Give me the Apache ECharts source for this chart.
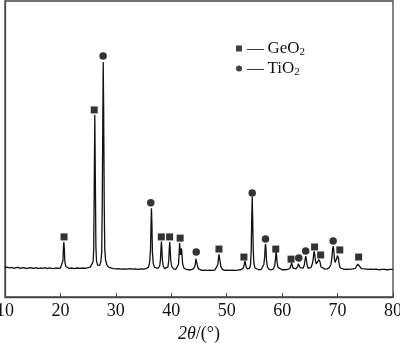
<!DOCTYPE html>
<html>
<head>
<meta charset="utf-8">
<script src="https://cdn.jsdelivr.net/npm/echarts@6/dist/echarts.min.js"></script>
<style>
html,body{margin:0;padding:0;background:#fff;}
#chart{width:400px;height:343px;}
</style>
</head>
<body>
<div id="chart"></div>
<script>
// X-ray diffraction pattern (2θ in degrees, intensity in arbitrary units)
var twoTheta = [
10.0,10.4,10.8,11.2,11.6,12.0,12.4,12.8,13.2,13.6,14.0,14.4,14.8,15.2,15.6,16.0,16.4,16.8,17.2,17.6,18.0,18.4,18.8,19.2,19.6,20.0,
20.1,20.3,20.45,20.55,20.62,20.7,20.8,20.95,21.2,
21.5,22.0,22.5,23.0,23.5,24.0,24.5,25.0,25.4,25.7,
25.9,26.0,26.1,26.2,26.3,26.4,26.5,26.7,26.9,27.1,27.3,27.45,27.55,27.65,27.72,27.8,27.9,28.0,28.15,28.4,28.7,29.0,
29.5,30.0,30.5,31.0,31.5,32.0,32.5,33.0,33.5,34.0,34.5,35.0,35.5,35.9,36.1,
36.25,36.35,36.42,36.5,36.6,36.75,37.0,37.3,37.6,37.9,
38.05,38.15,38.22,38.3,38.4,38.55,38.8,39.1,39.4,
39.55,39.65,39.72,39.8,39.9,40.05,40.4,40.8,41.1,41.3,
41.4,41.5,41.58,41.68,41.78,41.85,41.93,42.05,42.3,42.7,43.1,43.5,43.9,44.2,
44.35,44.45,44.52,44.6,44.7,44.85,45.1,45.5,46.0,46.5,47.0,47.5,47.9,48.2,48.4,
48.5,48.6,48.7,48.8,48.95,49.2,49.6,50.0,50.5,51.0,51.5,52.0,52.5,52.9,53.1,
53.22,53.3,53.38,53.5,53.7,53.9,54.1,54.3,
54.42,54.52,54.6,54.68,54.78,54.9,55.1,55.4,55.8,56.2,56.5,56.7,
56.85,56.95,57.0,57.08,57.18,57.35,57.6,58.0,58.4,58.65,
58.8,58.9,58.98,59.08,59.25,59.5,60.0,60.5,61.0,61.4,
61.6,61.7,61.8,61.95,62.2,62.5,62.8,
62.92,63.0,63.08,63.25,63.5,63.8,64.0,
64.15,64.25,64.35,64.5,64.7,64.95,65.2,65.45,
65.6,65.7,65.8,65.88,66.0,66.15,66.3,
66.5,66.65,66.72,66.85,67.0,67.3,67.7,68.1,68.5,68.8,
68.95,69.1,69.2,69.3,69.42,69.55,69.7,
69.85,69.97,70.05,70.15,70.3,70.5,70.8,71.2,71.6,72.0,72.4,72.8,73.2,73.5,
73.65,73.75,73.85,74.0,74.3,74.6,75.0,75.5,76.0,76.5,77.0,77.5,78.0,78.5,79.0,79.5,80.0
];
var intensity = [
9.9,10.1,9.8,10.0,9.7,9.9,10.0,9.7,9.9,9.8,9.6,9.9,9.8,9.7,9.9,9.6,9.8,9.7,9.9,9.6,9.8,9.7,9.6,9.8,9.7,9.8,
9.9,10.4,12.2,16.8,18.6,16.3,11.9,10.4,9.9,
9.7,9.8,9.6,9.8,9.7,9.8,9.7,9.9,10.1,10.7,
12.0,16.0,37.0,61.5,40.0,17.0,12.4,10.8,10.4,10.7,12.0,15.0,32.0,61.0,79.4,63.0,32.0,16.0,12.4,10.8,10.1,9.7,
9.6,9.5,9.6,9.4,9.5,9.4,9.6,9.4,9.5,9.3,9.5,9.4,9.6,10.1,11.8,
16.0,25.0,30.0,25.0,15.0,11.2,10.0,9.6,9.7,10.4,
12.6,16.8,18.7,16.4,12.5,10.4,9.6,9.5,10.2,
12.6,16.8,18.6,16.4,12.5,10.4,9.5,9.3,9.7,11.0,
14.2,18.2,16.2,14.2,15.7,16.4,14.3,11.2,9.7,9.3,9.2,9.2,9.4,10.1,
11.3,12.9,13.2,12.5,10.8,9.6,9.2,9.0,9.1,9.0,9.1,9.0,9.2,9.8,11.0,
12.8,14.4,13.9,12.1,10.2,9.4,9.0,9.1,9.0,9.1,9.0,9.1,9.2,9.6,10.4,
11.5,12.2,11.7,10.2,9.5,9.3,9.7,10.9,
16.0,27.0,33.8,27.0,16.0,11.4,9.8,9.3,9.2,9.3,9.8,11.0,
13.6,17.2,17.9,16.3,12.4,10.1,9.4,9.2,9.4,10.5,
12.8,15.2,14.4,11.8,10.0,9.4,9.2,9.2,9.3,9.7,
10.8,11.5,10.9,9.8,9.4,9.5,10.3,
11.2,11.7,11.1,9.9,9.5,9.8,10.8,
12.7,13.8,13.0,10.8,9.7,9.6,10.0,11.2,
12.8,14.7,15.4,14.4,12.3,11.2,11.5,
11.7,12.6,12.8,11.7,10.2,9.6,9.4,9.5,9.9,11.0,
12.8,16.2,17.2,16.0,13.1,11.7,11.9,
13.0,14.0,14.2,13.2,11.0,9.8,9.4,9.3,9.4,9.3,9.4,9.5,9.7,10.2,
11.1,11.5,11.1,10.3,9.6,9.4,9.5,9.3,9.4,9.3,9.4,9.2,9.3,9.3,9.2,9.3,9.3
];
// phase markers (2θ, marker height)
var geo2Theta = [20.65,26.1,38.2,39.7,41.6,48.6,53.1,58.85,61.6,65.85,66.95,70.4,73.8];
var geo2Height = [20.3,63.2,20.3,20.3,19.9,16.2,13.5,16.2,12.8,16.9,14.2,15.9,13.5];
var tio2Theta = [27.7,36.3,44.5,54.6,57.0,63.0,64.25,69.2];
var tio2Height = [81.4,31.8,15.2,35.1,19.6,13.2,15.5,18.9];
var xTicks = [10,20,30,40,50,60,70,80];

function zip(a,b){ var r=[]; for(var i=0;i<a.length;i++) r.push([a[i],b[i]]); return r; }

var chart = echarts.init(document.getElementById('chart'), null, {renderer:'canvas'});
var serif = '"Liberation Serif","Times New Roman",serif';
chart.setOption({
  animation:false,
  backgroundColor:'#fff',
  grid:{left:5,right:7,top:1,bottom:46,containLabel:false,outerBoundsMode:'none',
        show:true,borderColor:'#444',borderWidth:1.3,backgroundColor:'transparent'},
  legend:{
    orient:'vertical', left:231, top:35, itemWidth:6, itemHeight:6, itemGap:2,
    data:[{name:'GeO2',icon:'rect'},{name:'TiO2',icon:'circle'}],
    formatter:function(n){ return n==='GeO2' ? '—\u2009GeO{sub|2}' : '—\u2009TiO{sub|2}'; },
    textStyle:{fontFamily:serif,fontSize:17,color:'#111',lineHeight:17,
      rich:{sub:{fontFamily:serif,fontSize:11,color:'#111',padding:[8,0,0,0]}}},
    itemStyle:{color:'#111'}
  },
  xAxis:{
    type:'value', min:xTicks[0], max:xTicks[xTicks.length-1], interval:10,
    axisLine:{show:true,lineStyle:{color:'#444',width:1.3}},
    axisTick:{show:true,inside:true,length:4,lineStyle:{color:'#444'}},
    splitLine:{show:false},
    axisLabel:{fontFamily:serif,fontSize:18,color:'#111',margin:5},
    name:'{i|2θ}/(°)', nameLocation:'middle', nameGap:28,
    nameTextStyle:{fontFamily:serif,fontSize:18,color:'#111',
      rich:{i:{fontFamily:serif,fontSize:18,fontStyle:'italic',color:'#111'}}}
  },
  yAxis:{
    type:'value', min:0, max:100,
    axisLine:{show:true,lineStyle:{color:'#444',width:1.3}},
    axisTick:{show:false}, axisLabel:{show:false}, splitLine:{show:false}
  },
  series:[
    {type:'line', data:zip(twoTheta,intensity), showSymbol:false, symbol:'none',
     lineStyle:{color:'#111',width:1.3}, silent:true, z:2},
    {name:'GeO2', type:'scatter', data:zip(geo2Theta,geo2Height), symbol:'rect', symbolSize:7,
     itemStyle:{color:'#000'}, z:3},
    {name:'TiO2', type:'scatter', data:zip(tio2Theta,tio2Height), symbol:'circle', symbolSize:7.5,
     itemStyle:{color:'#000'}, z:3}
  ]
});
</script>
</body>
</html>
